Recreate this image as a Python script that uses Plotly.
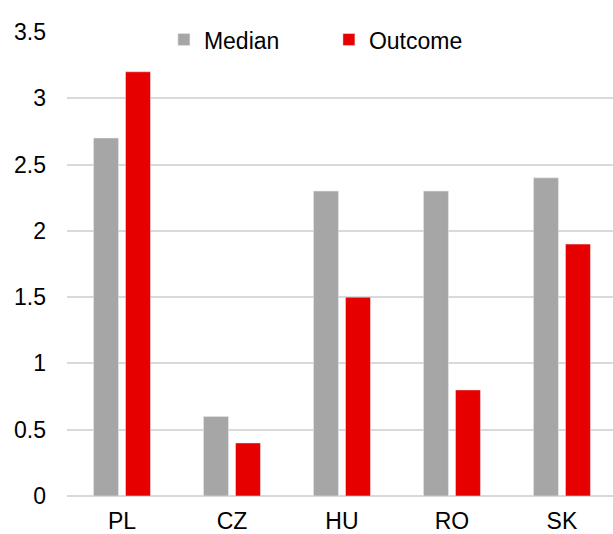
import plotly.graph_objects as go

countries = ["PL", "CZ", "HU", "RO", "SK"]
median = [2.7, 0.6, 2.3, 2.3, 2.4]
outcome = [3.2, 0.4, 1.5, 0.8, 1.9]
y_ticks = [0, 0.5, 1, 1.5, 2, 2.5, 3, 3.5]
y_tick_labels = ["0", "0.5", "1", "1.5", "2", "2.5", "3", "3.5"]

fig = go.Figure()
fig.add_trace(go.Bar(name="Median", x=countries, y=median, marker_color="#A6A6A6"))
fig.add_trace(go.Bar(name="Outcome", x=countries, y=outcome, marker_color="#E60000"))

fig.update_layout(
    width=613,
    height=534,
    margin=dict(l=67, r=0, t=32, b=38),
    paper_bgcolor="white",
    plot_bgcolor="white",
    font=dict(family="Arial, Liberation Sans, sans-serif", size=23, color="#000000"),
    barmode="group",
    bargap=0.418,
    bargroupgap=0.22,
    showlegend=True,
    legend=dict(
        orientation="h",
        x=0.1775,
        y=1.03,
        xanchor="left",
        yanchor="top",
        bgcolor="rgba(0,0,0,0)",
        font=dict(size=23),
        itemwidth=30,
        entrywidth=120,
        entrywidthmode="pixels",
    ),
    xaxis=dict(
        range=[-0.5, 4.464],
        showgrid=False,
        showline=False,
        ticks="",
        tickfont=dict(size=23),
        ticklabelstandoff=9,
    ),
    yaxis=dict(
        range=[0, 3.5],
        tickvals=y_ticks,
        ticktext=y_tick_labels,
        showgrid=True,
        gridcolor="#D9D9D9",
        gridwidth=1.5,
        zeroline=True,
        zerolinecolor="#D9D9D9",
        zerolinewidth=1.5,
        showline=False,
        ticks="",
        tickfont=dict(size=23),
        ticklabelstandoff=20,
    ),
)

fig.write_html("out.html")
